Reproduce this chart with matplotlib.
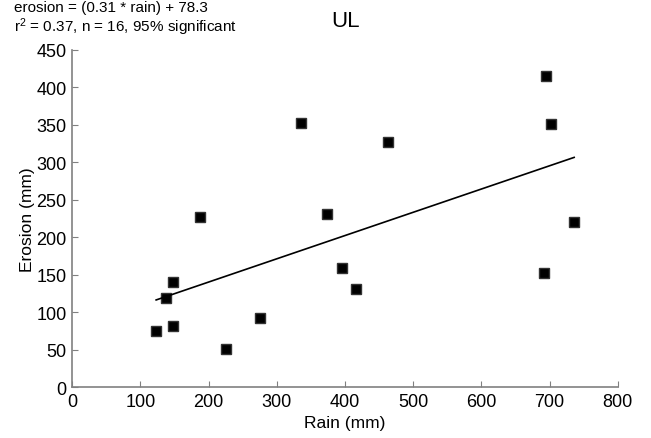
import matplotlib
matplotlib.use("Agg")
import matplotlib.pyplot as plt
import numpy as np

plt.rcParams['font.family'] = ['Liberation Sans', 'DejaVu Sans']
plt.rcParams['mathtext.default'] = 'regular'

# data
rain = [123, 137, 148, 148, 188, 226, 275, 335, 374, 396, 416, 463, 692, 695, 702, 736]
erosion = [75, 119, 141, 82, 227, 51, 92, 352, 231, 159, 131, 327, 152, 415, 351, 221]
slope = 0.31
intercept = 78.3

fig = plt.figure(figsize=(6.51, 4.39), dpi=100)
ax = fig.add_axes([0.111, 0.1155, 0.838, 0.769])

ax.plot(rain, erosion, 's', color='black', markersize=7.5, markeredgecolor='#333333')
xl = np.array([min(rain), max(rain)])
ax.plot(xl, slope * xl + intercept, color='black', linewidth=1.2)

ax.set_xlim(0, 800)
ax.set_ylim(0, 450)
ax.set_xticks(range(0, 801, 100))
ax.set_yticks(range(0, 451, 50))
ax.spines['top'].set_visible(False)
ax.spines['right'].set_visible(False)
for s in ['left', 'bottom']:
    ax.spines[s].set_color('#808080')
    ax.spines[s].set_linewidth(1.2)
ax.tick_params(direction='in', length=4, color='#808080', labelsize=13, pad=4)

ax.set_xlabel('Rain (mm)', fontsize=12.5, labelpad=4)
ax.set_ylabel('Erosion (mm)', fontsize=12.5, labelpad=1)
ax.set_title('UL', fontsize=16, pad=17)

fig.text(0.021, 0.997, 'erosion = (0.31 * rain) + 78.3\nr$^2$ = 0.37, n = 16, 95% significant',
         fontsize=11, va='top', ha='left', linespacing=1.05)

fig.savefig('out.png', dpi=100)
